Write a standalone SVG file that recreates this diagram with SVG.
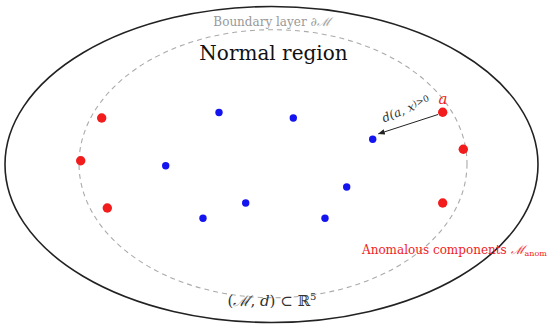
<svg xmlns="http://www.w3.org/2000/svg" width="550" height="332" viewBox="0 0 550 332">
<style>
.outer{fill:none;stroke:#222;stroke-width:1.6}
.layer{fill:none;stroke:#aaa;stroke-width:1.1;stroke-dasharray:5 4}
.anom{fill:#f21c1c}
.norm{fill:#1414f0}
.serif{font-family:"DejaVu Serif","Liberation Serif",serif}
</style>
<defs>
<marker id="ah" viewBox="0 0 10 10" refX="9" refY="5" markerWidth="7" markerHeight="7" orient="auto" markerUnits="userSpaceOnUse">
<path d="M0,1 L10,5 L0,9 z" fill="#222"/>
</marker>
</defs>
<rect width="550" height="332" fill="#fff"/>
<g id="manifold">
<ellipse class="outer" cx="271.5" cy="164.5" rx="266.5" ry="158"/>
</g>
<g id="boundary-layer">
<ellipse class="layer" cx="273" cy="163.7" rx="194" ry="134"/>
<text class="serif" x="272" y="25.5" font-size="12" fill="#999" text-anchor="middle">Boundary layer ∂<tspan font-style="italic">ℳ</tspan></text>
</g>
<g id="normal-region-label">
<text class="serif" x="273.5" y="59.5" font-size="20" fill="#111" text-anchor="middle">Normal region</text>
</g>
<g id="normal-points">
<circle class="norm" cx="219" cy="112.5" r="3.7"/>
<circle class="norm" cx="293.3" cy="118" r="3.7"/>
<circle class="norm" cx="372.7" cy="139.3" r="3.7"/>
<circle class="norm" cx="165.7" cy="165.7" r="3.7"/>
<circle class="norm" cx="346.7" cy="187" r="3.7"/>
<circle class="norm" cx="245.7" cy="203" r="3.7"/>
<circle class="norm" cx="203" cy="218.3" r="3.7"/>
<circle class="norm" cx="325" cy="218.3" r="3.7"/>
</g>
<g id="anomalous-points">
<circle class="anom" cx="101.7" cy="118" r="4.7"/>
<circle class="anom" cx="80.7" cy="160.7" r="4.7"/>
<circle class="anom" cx="107.3" cy="208" r="4.7"/>
<circle class="anom" cx="442.7" cy="112.3" r="4.7"/>
<circle class="anom" cx="463.3" cy="149.3" r="4.7"/>
<circle class="anom" cx="442.7" cy="203" r="4.7"/>
<text class="serif" x="443" y="103.5" font-size="15" font-style="italic" fill="#f21c1c" text-anchor="middle">a</text>
</g>
<g id="connectors">
<line x1="438" y1="114.5" x2="378.5" y2="133.8" stroke="#222" stroke-width="1" marker-end="url(#ah)"/>
<text class="serif" font-size="12" font-style="italic" fill="#333" transform="translate(384,122.5) rotate(-22)">d(a, x<tspan font-size="9" font-style="normal" dy="-3">)&gt;0</tspan></text>
</g>
<g id="labels">
<text class="serif" x="362" y="253.5" font-size="12" fill="#f21c1c">Anomalous components <tspan font-style="italic">ℳ</tspan><tspan font-size="8" dy="2">anom</tspan></text>
<text class="serif" x="272" y="306" font-size="15" fill="#333" text-anchor="middle">(<tspan font-style="italic">ℳ</tspan>, <tspan font-style="italic">d</tspan>) ⊂ ℝ<tspan font-size="10" dy="-6">5</tspan></text>
</g>
</svg>
